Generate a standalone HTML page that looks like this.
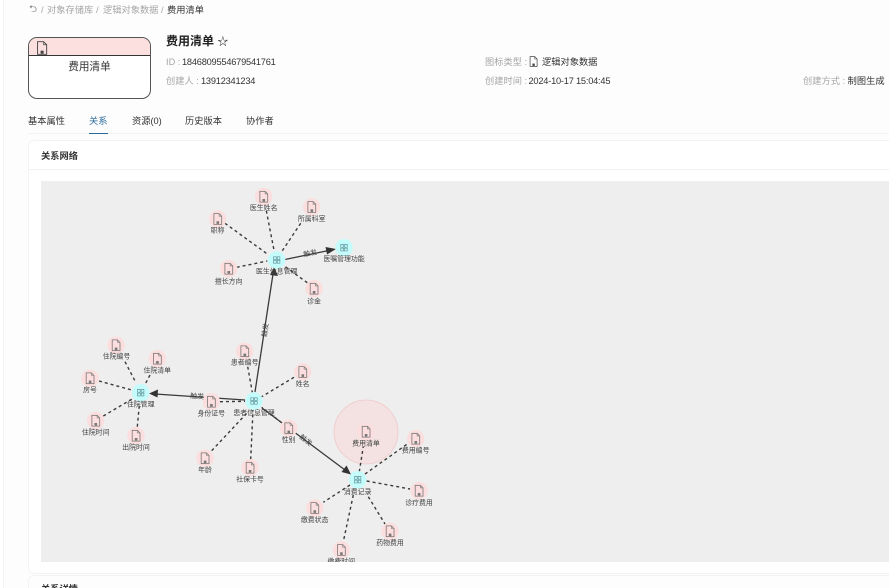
<!DOCTYPE html>
<html lang="zh"><head><meta charset="utf-8">
<style>
html,body{margin:0;padding:0;width:889px;height:588px;overflow:hidden;background:#fff}
body{position:relative;font-family:"Liberation Sans","Noto Sans CJK SC",sans-serif;font-size:9.24px;color:#333}
#w{position:absolute;left:0;top:0;width:889px;height:588px;filter:blur(.3px)}
.t{position:absolute;white-space:nowrap;line-height:12px}
.g{color:#a6a6a6}
.d{color:#333}
.n{letter-spacing:-.21px}
svg text{font-family:"Liberation Sans","Noto Sans CJK SC",sans-serif}
</style></head><body>
<svg width="0" height="0" style="position:absolute"><defs>
<symbol id="doc" viewBox="0 0 10 12"><path d="M1.200 .6H6.400L9 3.200V11.400H1.200Z" fill="none" stroke="currentColor" stroke-width=".8"/><path d="M6.400 .6V3.200H9" fill="none" stroke="currentColor" stroke-width=".6"/><rect x="3.800" y="8.300" width="2.600" height="2.600" fill="currentColor"/></symbol>
<symbol id="hub" viewBox="0 0 10 10"><path d="M1 1H4.400V4.400H1ZM5.600 1H9V4.400H5.600ZM1 5.600H4.400V9H1ZM5.600 5.600H9V9H5.600Z" fill="none" stroke="#5a8f96" stroke-width=".8"/></symbol>
</defs></svg>
<div id="w">
<div style="position:absolute;left:3px;top:0;width:1px;height:588px;background:#f2f2f2"></div>
<div style="position:absolute;left:4px;top:0;width:885px;height:588px;background:#fdfdfe"></div>

<div class="t" style="left:29px;top:4px;color:#777;font-size:10px">⮌</div>
<div class="t g" style="left:41px;top:4px">/</div>
<div class="t g" style="left:47px;top:4px">对象存储库</div>
<div class="t g" style="left:96px;top:4px">/</div>
<div class="t g" style="left:103px;top:4px">逻辑对象数据</div>
<div class="t g" style="left:161px;top:4px">/</div>
<div class="t d" style="left:167px;top:4px">费用清单</div>

<div style="position:absolute;left:28px;top:37px;width:121px;height:60px;border:1px solid #555;border-radius:9px;overflow:hidden;background:#fff">
<div style="height:17px;background:#fbe0df;border-bottom:1px solid #333"></div>
<svg width="12" height="14" style="position:absolute;left:7px;top:3px;color:#444"><use href="#doc" width="12" height="14"/></svg>
<div style="position:absolute;left:0;right:0;top:23px;text-align:center;font-size:10.600px;line-height:13px;color:#333">费用清单</div>
</div>

<div class="t" style="left:166px;top:34px;font-size:12px;line-height:14px;font-weight:bold;color:#222">费用清单 <span style="font-weight:normal;font-size:11px">☆</span></div>
<div class="t g" style="left:166px;top:56px">ID :</div>
<div class="t d n" style="left:182px;top:56px">1846809554679541761</div>
<div class="t g" style="left:166px;top:75px">创建人 :</div>
<div class="t d n" style="left:201px;top:75px">13912341234</div>
<div class="t g" style="left:485px;top:56px">图标类型 :</div>
<svg width="9" height="11" style="position:absolute;left:529px;top:56px;color:#444"><use href="#doc" width="9" height="11"/></svg>
<div class="t d" style="left:542px;top:56px">逻辑对象数据</div>
<div class="t g" style="left:485px;top:75px">创建时间 :</div>
<div class="t d n" style="left:528.500px;top:75px">2024-10-17 15:04:45</div>
<div class="t g" style="left:803px;top:75px">创建方式 : <span class="d">制图生成</span></div>

<div class="t" style="left:28px;top:115px">基本属性</div>
<div class="t" style="left:89px;top:115px;color:#2a6a9a">关系</div>
<div class="t" style="left:132px;top:115px">资源(0)</div>
<div class="t" style="left:185px;top:115px">历史版本</div>
<div class="t" style="left:246px;top:115px">协作者</div>
<div style="position:absolute;left:28px;top:133px;width:861px;height:1px;background:#f3f3f3"></div>
<div style="position:absolute;left:89px;top:132.500px;width:19px;height:1.500px;background:#2a6a9a"></div>

<div style="position:absolute;left:28px;top:140px;width:861px;height:434px;box-sizing:border-box;border:1px solid #f3f3f3;border-right:0;border-radius:6px 0 0 6px;background:#fff"></div>
<div style="position:absolute;left:29px;top:169px;width:860px;height:1px;background:#f3f3f3"></div>
<div class="t" style="left:41px;top:150px;font-weight:bold;color:#333">关系网络</div>

<svg width="889" height="381" viewBox="0 181 889 381" style="position:absolute;left:0;top:181px;clip-path:inset(0 0 0 41px)">
<rect x="41" y="181" width="848" height="381" fill="#eeeeee"/>
<circle cx="366" cy="432" r="32" fill="#f6dede" fill-opacity=".75" stroke="#efc9c9" stroke-width=".8"/>
<g stroke="#3a3a3a" stroke-width="1.400" stroke-dasharray="3 3" fill="none">
<path d="M266.300 210.700L274.300 251.700M300.700 223.300L282.300 250.700M225 223.300L267.300 254M236.700 267.300L267.300 261M307.300 282.700L284.300 266"/>
<path d="M125 361.700L135.700 382.300M150 375L144.700 385M99 381L131.700 390M103.300 416L133.300 398.300M137.300 426.700L139.300 405"/>
<path d="M247.700 366.700L252.300 392.300M294 377.300L261.700 396.700M220 401.700L245 401.300M281.700 422.700L261.700 407.300M211.700 450.700L246.700 413.300M250.700 459.300L253 410"/>
<path d="M359.300 471.700L363.300 446.700M365 474L408.300 443.300M366.700 481L410 489M368.300 496.700L385 524M350 485L323.300 502.300M353.300 495L343.300 541.700"/>
</g>
<g stroke="#3a3a3a" stroke-width="1.300" fill="none">
<path d="M255 392L273 274M285 259.500L330 250.200M245 400L155 394M262 408L345 470"/>
</g>
<g fill="#333">
<path d="M274.300 267L278 276L270 275Z"/>
<path d="M336 249L327 254.500L325.500 247Z"/>
<path d="M149 393.500L158 389.500L157.500 397.500Z"/>
<path d="M351 474.500L341.500 472L346.500 465.500Z"/>
</g>
<g fill="#fbdedd">
<circle cx="263.700" cy="196.700" r="8.700"/><circle cx="311.700" cy="207" r="8.700"/><circle cx="217.700" cy="219" r="8.700"/><circle cx="228.700" cy="268.700" r="8.700"/><circle cx="314" cy="288.700" r="8.700"/>
<circle cx="116" cy="345.300" r="8.700"/><circle cx="157.300" cy="358.700" r="8.700"/><circle cx="90" cy="378.300" r="8.700"/><circle cx="95.700" cy="420.700" r="8.700"/><circle cx="136" cy="435.700" r="8.700"/>
<circle cx="244.700" cy="351.300" r="8.700"/><circle cx="302.700" cy="372" r="8.700"/><circle cx="211.300" cy="401.700" r="8.700"/><circle cx="288.700" cy="428.300" r="8.700"/><circle cx="205" cy="458.300" r="8.700"/><circle cx="250" cy="467.700" r="8.700"/>
<circle cx="366" cy="431.700" r="8.700"/><circle cx="415.700" cy="438.700" r="8.700"/><circle cx="419" cy="490.700" r="8.700"/><circle cx="390" cy="531.300" r="8.700"/><circle cx="314.700" cy="508" r="8.700"/><circle cx="341.300" cy="550" r="8.700"/>
</g>
<g fill="#c4fbfb">
<circle cx="276.700" cy="260" r="8.700"/><circle cx="344" cy="247.700" r="8.700"/><circle cx="254" cy="401" r="8.700"/><circle cx="140.700" cy="392.700" r="8.700"/><circle cx="357.700" cy="479.700" r="8.700"/>
</g>
<g color="#777">
<use href="#doc" x="258.700" y="190.700" width="10" height="12"/><use href="#doc" x="306.700" y="201" width="10" height="12"/><use href="#doc" x="212.700" y="213" width="10" height="12"/><use href="#doc" x="223.700" y="262.700" width="10" height="12"/><use href="#doc" x="309" y="282.700" width="10" height="12"/>
<use href="#doc" x="111" y="339.300" width="10" height="12"/><use href="#doc" x="152.300" y="352.700" width="10" height="12"/><use href="#doc" x="85" y="372.300" width="10" height="12"/><use href="#doc" x="90.700" y="414.700" width="10" height="12"/><use href="#doc" x="131" y="429.700" width="10" height="12"/>
<use href="#doc" x="239.700" y="345.300" width="10" height="12"/><use href="#doc" x="297.700" y="366" width="10" height="12"/><use href="#doc" x="206.300" y="395.700" width="10" height="12"/><use href="#doc" x="283.700" y="422.300" width="10" height="12"/><use href="#doc" x="200" y="452.300" width="10" height="12"/><use href="#doc" x="245" y="461.700" width="10" height="12"/>
<use href="#doc" x="361" y="425.700" width="10" height="12"/><use href="#doc" x="410.700" y="432.700" width="10" height="12"/><use href="#doc" x="414" y="484.700" width="10" height="12"/><use href="#doc" x="385" y="525.300" width="10" height="12"/><use href="#doc" x="309.700" y="502" width="10" height="12"/><use href="#doc" x="336.300" y="544" width="10" height="12"/>
</g>
<use href="#hub" x="272.700" y="256" width="8" height="8"/><use href="#hub" x="340" y="243.700" width="8" height="8"/><use href="#hub" x="250" y="397" width="8" height="8"/><use href="#hub" x="136.700" y="388.700" width="8" height="8"/><use href="#hub" x="353.700" y="475.700" width="8" height="8"/>
<g font-size="6.900" fill="#444" text-anchor="middle">
<text x="263.700" y="210">医生姓名</text><text x="311.700" y="221">所属科室</text><text x="217.700" y="232.300">职称</text><text x="228.700" y="283.300">擅长方向</text><text x="314" y="303.300">诊金</text>
<text x="276.700" y="273.300">医生信息管理</text><text x="344" y="261">医嘱管理功能</text>
<text x="116.500" y="358.600">住院编号</text><text x="157.300" y="372.300">住院清单</text><text x="90" y="392">房号</text><text x="95.700" y="434.600">住院时间</text><text x="136" y="449.300">出院时间</text><text x="140.700" y="406.600">住院管理</text>
<text x="244.700" y="364.600">患者编号</text><text x="302.700" y="386">姓名</text><text x="211.300" y="415.300">身份证号</text><text x="288.700" y="442">性别</text><text x="205" y="472">年龄</text><text x="250" y="481.600">社保卡号</text><text x="254" y="415">患者信息管理</text>
<text x="366" y="445.300">费用清单</text><text x="415.700" y="452.300">费用编号</text><text x="419" y="505">诊疗费用</text><text x="390" y="545">药物费用</text><text x="314.700" y="522">缴费状态</text><text x="341.300" y="563.300">缴费时间</text><text x="357.700" y="494">消费记录</text>
<text x="310" y="255.500" transform="rotate(-11 310 253)">触发</text>
<text x="197" y="398.500" transform="rotate(4 197 396)">触发</text>
<text x="265" y="332.500" transform="rotate(-81 265 330)">触发</text>
<text x="306" y="442.500" transform="rotate(38 306 440)">触发</text>
</g>
</svg>

<div class="t" style="left:41px;top:583px;font-weight:bold;color:#333">关系详情</div>
<div style="position:absolute;left:28px;top:575px;width:861px;height:13px;box-sizing:border-box;border-top:1px solid #f3f3f3;border-left:1px solid #f3f3f3;border-radius:6px 0 0 0"></div>
</div>
</body></html>
